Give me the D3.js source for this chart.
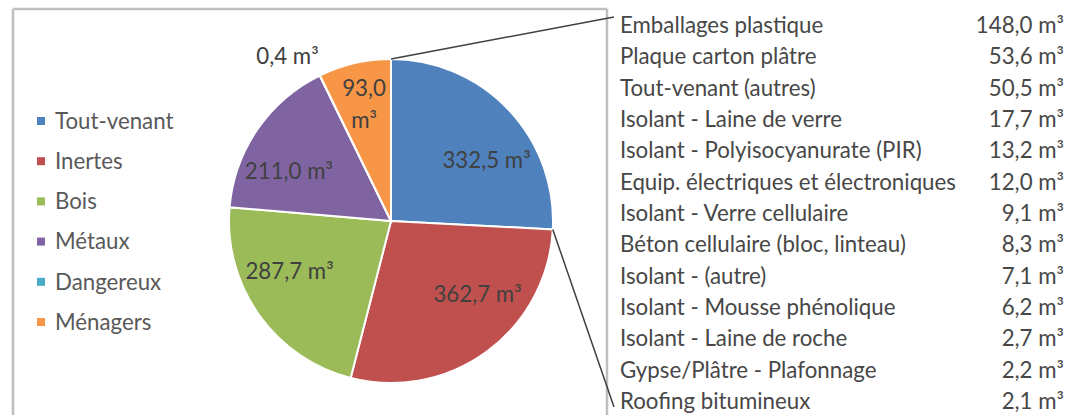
<!DOCTYPE html>
<html><head><meta charset="utf-8">
<script src="https://cdn.jsdelivr.net/npm/d3@7"></script>
<style>body{margin:0;background:#fff;overflow:hidden}</style>
</head><body>
<svg id="c" width="1073" height="415"></svg>
<script>
// ---- data ----
const categories = ["Tout-venant","Inertes","Bois","Métaux","Dangereux","Ménagers"];
const values = [332.5, 362.7, 287.7, 211.0, 0.4, 93.0];
const colors = ["#4F81BD","#C0504D","#9BBB59","#8064A2","#4BACC6","#F79646"];
const detailLabels = [
  "Emballages plastique","Plaque carton plâtre","Tout-venant (autres)",
  "Isolant - Laine de verre","Isolant - Polyisocyanurate (PIR)",
  "Equip. électriques et électroniques","Isolant - Verre cellulaire",
  "Béton cellulaire (bloc, linteau)","Isolant - (autre)",
  "Isolant - Mousse phénolique","Isolant - Laine de roche",
  "Gypse/Plâtre - Plafonnage","Roofing bitumineux"
];
const detailValues = [148.0, 53.6, 50.5, 17.7, 13.2, 12.0, 9.1, 8.3, 7.1, 6.2, 2.7, 2.2, 2.1];
const unit = "m³";

// ---- setup ----
const svg = d3.select("#c");
const H = 415;
const FONT = "Lato, 'Open Sans', sans-serif";
const fr = d3.formatLocale({decimal: ",", thousands: " ", grouping: [3], currency: ["", "€"]});
const fmt = fr.format(".1f");

// calibrate font size to the reference width of the longest detail label
const probe = svg.append("text").attr("font-family", FONT).attr("font-size", 20)
  .text("Equip. électriques et électroniques");
const fs = 20 * 336 / probe.node().getComputedTextLength();
probe.remove();

// ---- pie ----
const cx = 391, cy = 221, r = 162;
const pie = d3.pie().sort(null).value(d => d)(values);
const arc = d3.arc().innerRadius(0).outerRadius(r);
const g = svg.append("g").attr("transform", `translate(${cx},${cy})`);
g.selectAll("path").data(pie).join("path")
  .attr("d", arc)
  .attr("fill", (d, i) => colors[i])
  .attr("stroke", "#fff").attr("stroke-width", 2);

// chart frame (left, top, right edges; bottom is outside the picture)
const box = {left: 13, top: 9, right: 607};
const fg = svg.append("g");
fg.append("line").attr("x1", box.left).attr("y1", box.top).attr("x2", box.left).attr("y2", H)
  .attr("stroke", "#bfbfbf").attr("stroke-width", 2.5);
fg.append("line").attr("x1", box.left).attr("y1", box.top).attr("x2", box.right).attr("y2", box.top)
  .attr("stroke", "#bfbfbf").attr("stroke-width", 2.5);
fg.append("line").attr("x1", box.right).attr("y1", box.top).attr("x2", box.right).attr("y2", H)
  .attr("stroke", "#bfbfbf").attr("stroke-width", 2.5);

// labels (best-fit like placement)
pie.forEach((d, i) => {
  const mid = (d.startAngle + d.endAngle) / 2;
  const span = d.endAngle - d.startAngle;
  const txt = fmt(values[i]);
  if (span < Math.PI / 36) {
    const rr = r * 1.13;
    g.append("text")
      .attr("x", rr * Math.sin(mid) + 8).attr("y", -rr * Math.cos(mid))
      .attr("dy", "0.35em")
      .attr("text-anchor", mid > Math.PI ? "end" : "start")
      .attr("font-family", FONT).attr("font-size", fs).attr("fill", "#404040")
      .text(txt + " " + unit);
    return;
  }
  let a = mid;
  if (span > Math.PI / 4) {
    const h = mid < Math.PI ? Math.PI / 2 : 3 * Math.PI / 2;
    a = mid + 0.25 * (h - mid);
  }
  const rr = span < Math.PI / 5 ? r * 0.74 : r * 0.7;
  const x = rr * Math.sin(a), y = -rr * Math.cos(a);
  const t = g.append("text")
    .attr("text-anchor", "middle")
    .attr("font-family", FONT).attr("font-size", fs).attr("fill", "#404040");
  if (span < Math.PI / 5) {
    t.append("tspan").attr("x", x).attr("y", y - fs * 0.7).attr("dy", "0.35em").text(txt);
    t.append("tspan").attr("x", x).attr("y", y + fs * 0.7).attr("dy", "0.35em").text(unit);
  } else {
    t.attr("x", x).attr("y", y).attr("dy", "0.35em").text(txt + " " + unit);
  }
});

// ---- legend ----
const ly = d3.scalePoint().domain(categories).range([121, 322]);
const lg = svg.append("g");
categories.forEach((c, i) => {
  lg.append("rect").attr("x", 37).attr("y", ly(c) - 4).attr("width", 8).attr("height", 8)
    .attr("fill", colors[i]);
  lg.append("text").attr("x", 55).attr("y", ly(c)).attr("dy", "0.35em")
    .attr("font-family", FONT).attr("font-size", fs).attr("fill", "#595959").text(c);
});

// ---- detail table ----
const tx0 = 620, tx1 = 1064;
const ty = d3.scalePoint().domain(d3.range(detailLabels.length)).range([33, 409]);
const tg = svg.append("g").attr("font-family", FONT).attr("font-size", fs).attr("fill", "#474747");
detailLabels.forEach((l, i) => {
  tg.append("text").attr("x", tx0).attr("y", ty(i)).text(l);
  tg.append("text").attr("x", tx1).attr("y", ty(i)).attr("text-anchor", "end")
    .text(fmt(detailValues[i]) + " " + unit);
});

// ---- leader lines from Tout-venant slice to table ----
const s0 = pie[0];
const pA = [cx + r * Math.sin(s0.startAngle), cy - r * Math.cos(s0.startAngle)];
const pB = [cx + r * Math.sin(s0.endAngle), cy - r * Math.cos(s0.endAngle)];
const capH = fs * 0.72;
svg.append("line").attr("x1", pA[0]).attr("y1", pA[1])
  .attr("x2", tx0 - 6).attr("y2", ty(0) - capH)
  .attr("stroke", "#404040").attr("stroke-width", 1.5);
svg.append("line").attr("x1", pB[0]).attr("y1", pB[1])
  .attr("x2", tx0 - 6).attr("y2", ty(detailLabels.length - 1) - 2)
  .attr("stroke", "#404040").attr("stroke-width", 1.5);
</script>
</body></html>
